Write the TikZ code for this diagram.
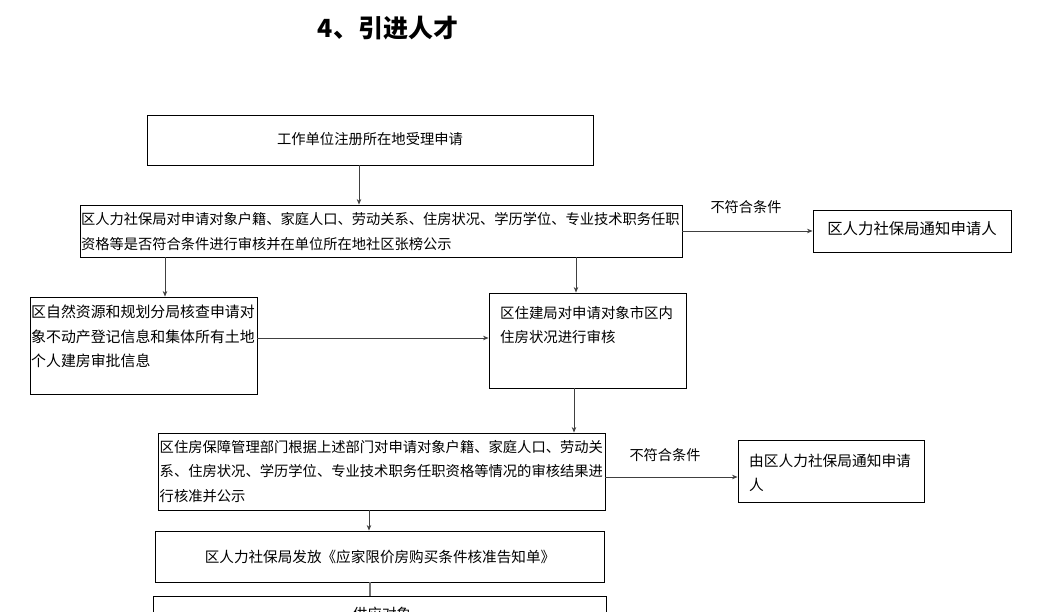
\documentclass[tikz,border=0pt]{standalone}
\usepackage{fontspec}
\newfontfamily\cjk{Noto Sans CJK SC}
\usetikzlibrary{arrows.meta}
\tikzset{
  box/.style={draw=black, line width=0.9pt, inner sep=0pt, fill=white},
  txt/.style={inner sep=0pt, align=left, anchor=north west, text=black},
  txtc/.style={inner sep=0pt, anchor=center, text=black},
  arr/.style={draw=black!75, line width=0.8pt, -{Stealth[length=5.5pt,width=4.5pt]}},
  plainline/.style={draw=black!55, line width=1.4pt},
}
\newcommand{\fs}[1]{\cjk\fontsize{#1}{24.5}\selectfont}
\begin{document}
\begin{tikzpicture}[x=1pt,y=-1pt]
\useasboundingbox (0,0) rectangle (1043,612);
\clip (0,0) rectangle (1043,612);
\fill[white] (0,0) rectangle (1043,612);

% title
\node[txtc, font={\cjk\bfseries\fontsize{25}{30}\selectfont}] (title) at (388,28) {4、引进人才};

% boxes
\node[box, minimum width=446pt, minimum height=50pt] (b1) at (370,140) {};
\node[txtc, font=\fs{14.3}] (t1) at (370,139) {工作单位注册所在地受理申请};

\node[box, minimum width=602pt, minimum height=52pt] (b2) at (381,231) {};
\node[txt, font=\fs{14.25}] (t2) at (81,212.5) {区人力社保局对申请对象户籍、家庭人口、劳动关系、住房状况、学历学位、专业技术职务任职\\资格等是否符合条件进行审核并在单位所在地社区张榜公示};

\node[box, minimum width=198pt, minimum height=42pt] (b3) at (912,231) {};
\node[txtc, font=\fs{15.4}] (t3) at (912,229) {区人力社保局通知申请人};

\node[box, minimum width=227pt, minimum height=97pt] (b4) at (143.5,345.5) {};
\node[txt, font=\fs{14.9}] (t4) at (31,305) {区自然资源和规划分局核查申请对\\象不动产登记信息和集体所有土地\\个人建房审批信息};

\node[box, minimum width=197pt, minimum height=95pt] (b5) at (587.5,340.5) {};
\node[txt, font=\fs{14.4}] (t5) at (500,306) {区住建局对申请对象市区内\\住房状况进行审核};

\node[box, minimum width=447pt, minimum height=77pt] (b6) at (381.5,471.5) {};
\node[txt, font=\fs{14.3}] (t6) at (159.5,440) {区住房保障管理部门根据上述部门对申请对象户籍、家庭人口、劳动关\\系、住房状况、学历学位、专业技术职务任职资格等情况的审核结果进\\行核准并公示};

\node[box, minimum width=186pt, minimum height=62pt] (b7) at (831,471) {};
\node[txt, font=\fs{14.7}] (t7) at (749,453.5) {由区人力社保局通知申请\\人};

\node[box, minimum width=449pt, minimum height=51pt] (b8) at (379.5,556.5) {};
\node[txtc, font=\fs{14.6}] (t8) at (380,557) {区人力社保局发放《应家限价房购买条件核准告知单》};

\node[box, minimum width=453pt, minimum height=50pt] (b9) at (379.5,621) {};
\node[txtc, font=\fs{14.6}] (t9) at (382,614) {供应对象};

% connector x positions
\coordinate (x359) at (359,0);
\coordinate (x165) at (165,0);
\coordinate (x576) at (576,0);
\coordinate (x574) at (574,0);
\coordinate (x369) at (369,0);
\coordinate (x370) at (370,0);
\coordinate (y338) at (0,338);
\coordinate (y477) at (0,477);

\draw[arr] (x359 |- b1.south) -- (x359 |- b2.north);
\draw[arr] (b2.east) -- (b3.west);
\node[txtc, font=\fs{14.2}] (l1) at (746,207) {不符合条件};
\draw[arr] (x165 |- b2.south) -- (x165 |- b4.north);
\draw[arr] (x576 |- b2.south) -- (x576 |- b5.north);
\draw[arr] (y338 -| b4.east) -- (y338 -| b5.west);
\draw[arr] (x574 |- b5.south) -- (x574 |- b6.north);
\draw[arr] (y477 -| b6.east) -- (y477 -| b7.west);
\node[txtc, font=\fs{14.2}] (l2) at (665,455) {不符合条件};
\draw[arr] (x369 |- b6.south) -- (x369 |- b8.north);
\draw[plainline] (x370 |- b8.south) -- (x370 |- b9.north);
\end{tikzpicture}
\end{document}
